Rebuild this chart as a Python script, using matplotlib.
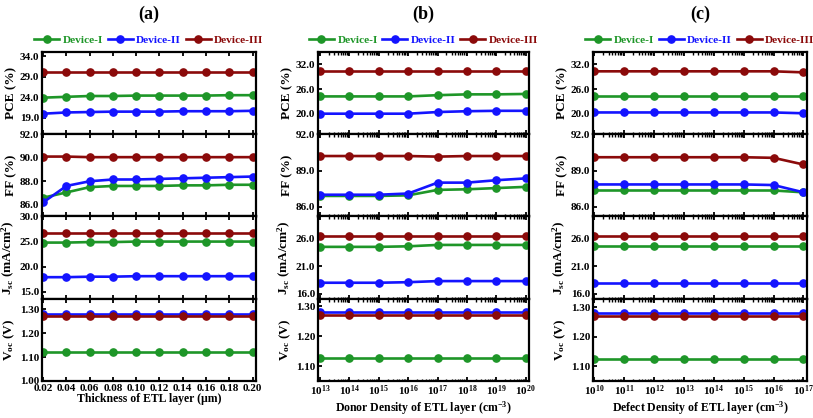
import numpy as np
import matplotlib
matplotlib.use("Agg")
import matplotlib.pyplot as plt
from matplotlib.ticker import FuncFormatter, LogLocator, NullFormatter

plt.rcParams['font.family'] = ['Liberation Serif', 'DejaVu Serif']
plt.rcParams['font.weight'] = 'bold'
plt.rcParams['mathtext.fontset'] = 'custom'
plt.rcParams['mathtext.rm'] = 'Liberation Serif:bold'
plt.rcParams['mathtext.bf'] = 'Liberation Serif:bold'
plt.rcParams['mathtext.it'] = 'Liberation Serif:bold'

# ---- data ----
devices = ['Device-I', 'Device-II', 'Device-III']
colors = ['#1e9628', '#1414ff', '#8b0a0a']

# (a) thickness of ETL layer (um)
thick = [0.02, 0.04, 0.06, 0.08, 0.10, 0.12, 0.14, 0.16, 0.18, 0.20]
pce_a = [[23.9, 24.1, 24.3, 24.3, 24.4, 24.4, 24.4, 24.4, 24.5, 24.5],
         [20.0, 20.3, 20.4, 20.5, 20.5, 20.5, 20.6, 20.6, 20.6, 20.7],
         [30.2, 30.2, 30.2, 30.2, 30.2, 30.2, 30.2, 30.2, 30.2, 30.2]]
ff_a = [[86.6, 87.05, 87.5, 87.6, 87.6, 87.6, 87.65, 87.65, 87.7, 87.7],
        [86.2, 87.6, 88.0, 88.15, 88.15, 88.2, 88.25, 88.3, 88.35, 88.4],
        [90.1, 90.1, 90.05, 90.05, 90.05, 90.05, 90.05, 90.05, 90.05, 90.05]]
jsc_a = [[24.8, 24.8, 24.9, 24.9, 25.0, 25.0, 25.0, 25.0, 25.0, 25.0],
         [17.9, 17.9, 18.0, 18.0, 18.1, 18.1, 18.1, 18.1, 18.1, 18.1],
         [26.7, 26.7, 26.7, 26.7, 26.7, 26.7, 26.7, 26.7, 26.7, 26.7]]
voc_a = [[1.123] * 10, [1.282] * 10, [1.272] * 10]

# (b) donor density of ETL layer (cm^-3)
donor = [1e13, 1e14, 1e15, 1e16, 1e17, 1e18, 1e19, 1e20]
pce_b = [[24.2, 24.2, 24.2, 24.2, 24.5, 24.7, 24.7, 24.8],
         [20.0, 20.0, 20.0, 20.0, 20.4, 20.6, 20.7, 20.7],
         [30.3, 30.3, 30.3, 30.3, 30.3, 30.3, 30.3, 30.3]]
ff_b = [[86.9, 86.9, 86.9, 86.95, 87.4, 87.45, 87.55, 87.65],
        [87.0, 87.0, 87.0, 87.1, 88.0, 88.0, 88.2, 88.35],
        [90.2, 90.2, 90.2, 90.2, 90.15, 90.2, 90.2, 90.2]]
jsc_b = [[24.5, 24.5, 24.5, 24.6, 24.85, 24.85, 24.85, 24.85],
         [18.0, 18.0, 18.0, 18.1, 18.3, 18.3, 18.3, 18.3],
         [26.4, 26.4, 26.4, 26.4, 26.4, 26.4, 26.4, 26.4]]
voc_b = [[1.126] * 8, [1.283] * 8, [1.272] * 8]

# (c) defect density of ETL layer (cm^-3)
defect = [1e10, 1e11, 1e12, 1e13, 1e14, 1e15, 1e16, 1e17]
pce_c = [[24.3, 24.3, 24.3, 24.3, 24.3, 24.3, 24.3, 24.3],
         [20.3, 20.3, 20.3, 20.3, 20.3, 20.3, 20.3, 20.1],
         [30.3, 30.3, 30.3, 30.3, 30.3, 30.3, 30.3, 30.05]]
ff_c = [[87.35, 87.35, 87.35, 87.35, 87.35, 87.35, 87.35, 87.2],
        [87.85, 87.85, 87.85, 87.85, 87.85, 87.85, 87.8, 87.2],
        [90.1, 90.1, 90.1, 90.1, 90.1, 90.1, 90.05, 89.5]]
jsc_c = [[24.6] * 8, [18.0] * 8, [26.4] * 8]
voc_c = [[1.125] * 8, [1.281] * 8, [1.269] * 8]

ylabels = ['PCE (%)', 'FF (%)', r'J$_{\mathbf{sc}}$ (mA/cm$^{\mathbf{2}}$)', r'V$_{\mathbf{oc}}$ (V)']

panels = [
    dict(x=thick, data=[pce_a, ff_a, jsc_a, voc_a], log=False, left=42, right=256,
         xlim=(0.019, 0.203), xlabel='Thickness of ETL layer (\u03bcm)', tag='(a)',
         ylims=[(15, 35), (85, 92), (13.6, 30), (1.0, 1.345)],
         yticks=[[19, 24, 29, 34], [86, 88, 90, 92], [15, 20, 25, 30], [1.0, 1.1, 1.2, 1.3]]),
    dict(x=donor, data=[pce_b, ff_b, jsc_b, voc_b], log=True, left=318, right=529,
         xlim=(10 ** 12.93, 10 ** 20.11), xlabel=r'Donor Density of ETL layer (cm$^{\mathbf{-3}}$)', tag='(b)',
         ylims=[(15, 35), (85.2, 92), (15.1, 30), (1.05, 1.326)],
         yticks=[[20, 26, 32], [86, 89, 92], [16, 21, 26], [1.1, 1.2, 1.3]]),
    dict(x=defect, data=[pce_c, ff_c, jsc_c, voc_c], log=True, left=593, right=807,
         xlim=(10 ** 9.95, 10 ** 17.12), xlabel=r'Defect Density of ETL layer (cm$^{\mathbf{-3}}$)', tag='(c)',
         ylims=[(15, 35), (85.2, 92), (15.1, 30), (1.05, 1.328)],
         yticks=[[20, 26, 32], [86, 89, 92], [16, 21, 26], [1.1, 1.2, 1.3]]),
]

W, H = 813, 418
fig = plt.figure(figsize=(W / 100, H / 100), dpi=100)
top_px, bot_px = 52, 381
row_h = (bot_px - top_px) / 4

for p in panels:
    axes = []
    for r in range(4):
        y0 = 1 - (top_px + (r + 1) * row_h) / H
        ax = fig.add_axes([p['left'] / W, y0, (p['right'] - p['left']) / W, row_h / H])
        for k in range(3):
            ax.plot(p['x'], p['data'][r][k], '-o', color=colors[k], lw=1.9, ms=5.2,
                    label=devices[k])
        if p['log']:
            ax.set_xscale('log')
            ax.xaxis.set_major_locator(LogLocator(base=10, numticks=20))
            ax.xaxis.set_minor_locator(LogLocator(base=10, subs=np.arange(2, 10), numticks=20))
            ax.xaxis.set_minor_formatter(NullFormatter())
            ax.xaxis.set_major_formatter(FuncFormatter(
                lambda v, pos: r'$\mathbf{10^{%d}}$' % round(np.log10(v))))
        else:
            ax.set_xticks(p['x'])
            ax.xaxis.set_major_formatter(FuncFormatter(lambda v, pos: '%.2f' % v))
        ax.set_xlim(p['xlim'])
        ax.set_ylim(p['ylims'][r])
        ax.set_yticks(p['yticks'][r])
        fmt = '%.2f' if r == 3 else '%.1f'
        ax.yaxis.set_major_formatter(FuncFormatter(lambda v, pos, f=fmt: f % v))
        ax.tick_params(which='both', direction='in', top=True, right=False, width=1.3,
                       labelsize=8, pad=2)
        ax.tick_params(which='major', length=3)
        ax.tick_params(which='minor', length=1.8, width=1.0)
        for s in ax.spines.values():
            s.set_linewidth(1.6)
        ax.set_ylabel(ylabels[r], fontsize=9.5, fontweight='bold', labelpad=2)
        if r < 3:
            ax.tick_params(labelbottom=False)
        axes.append(ax)
    axes[-1].set_xlabel(p['xlabel'], fontsize=8.5, fontweight='bold', labelpad=0.5)
    fig.align_ylabels(axes)
    leg = axes[0].legend(loc='lower center', bbox_to_anchor=(0.5, 1.0), ncol=3, frameon=False,
                         handlelength=2.2, handletextpad=0.3, columnspacing=0.4,
                         borderaxespad=0.2, prop={'weight': 'bold', 'size': 8.2})
    for t, c in zip(leg.get_texts(), colors):
        t.set_color(c)
    cx = (p['left'] + p['right']) / 2 / W
    fig.text(cx, 1 - 14 / H, p['tag'], ha='center', va='center', fontsize=13, fontweight='bold')

fig.savefig('out.png', dpi=100)
